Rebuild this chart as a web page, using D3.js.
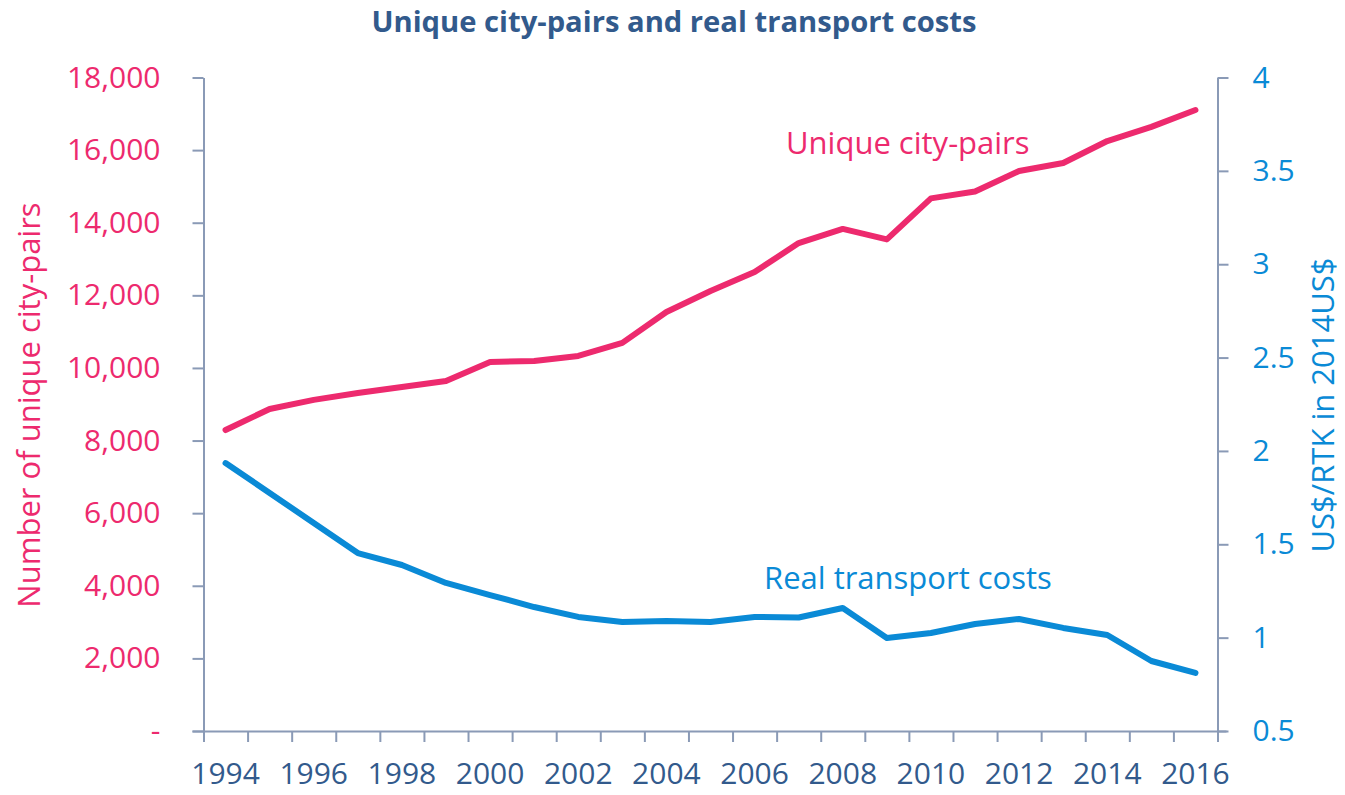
<!DOCTYPE html>
<html lang="en">
<head>
<meta charset="utf-8">
<title>Unique city-pairs and real transport costs</title>
<script src="https://d3js.org/d3.v7.min.js"></script>
<style>
  html, body { margin: 0; padding: 0; background: #fff; }
  svg { display: block; font-family: "Open Sans", sans-serif; }
  .axis path, .axis line { stroke: #8a9ab6; stroke-width: 2; }
</style>
</head>
<body>
<svg width="1345" height="795"></svg>
<script>
  // data
  const years = d3.range(1994, 2017);
  const cityPairs = [8290, 8870, 9120, 9310, 9475, 9640, 10165, 10190, 10330, 10690,
                     11540, 12120, 12640, 13440, 13830, 13540, 14670, 14860, 15425,
                     15645, 16250, 16640, 17105];
  const transportCost = [1.935, 1.775, 1.614, 1.453, 1.389, 1.293, 1.228, 1.164, 1.111,
                         1.084, 1.089, 1.084, 1.111, 1.108, 1.159, 0.998, 1.025, 1.073,
                         1.100, 1.052, 1.014, 0.875, 0.811];
  const leftTicks = d3.range(0, 18001, 2000);
  const rightTicks = [0.5, 1, 1.5, 2, 2.5, 3, 3.5, 4];
  const yearLabels = years.filter(y => y % 2 === 0);

  const pink = "#ed2a6e", blue = "#0a8ad6", navy = "#325a8c";
  const plotL = 203.5, plotR = 1217.5, plotT = 77.5, plotB = 731;

  const svg = d3.select("svg");

  const x = d3.scaleBand().domain(years).range([plotL, plotR]).padding(0);
  const xEdge = d3.scaleLinear().domain([1993.5, 2016.5]).range([plotL, plotR]);
  const yL = d3.scaleLinear().domain([0, 18000]).range([plotB, plotT]);
  const yR = d3.scaleLinear().domain([0.5, 4]).range([plotB, plotT]);

  // x axis: ticks at the year boundaries, labels every other year
  svg.append("g").attr("class", "axis")
     .attr("transform", `translate(0,${plotB})`)
     .call(d3.axisBottom(xEdge).tickValues(d3.range(1993.5, 2017, 1)).tickSize(11)
       .tickFormat("").tickSizeOuter(0))
     .select(".domain").attr("d", `M${plotL - 11},0.5H${plotR + 9}`);

  const xl = svg.append("g")
     .attr("transform", `translate(0,${plotB})`)
     .call(d3.axisBottom(x).tickValues(yearLabels).tickSize(0).tickPadding(32));
  xl.select(".domain").remove();
  xl.selectAll("text").attr("fill", navy).style("font-size", "30px")
     .style("font-family", "'Open Sans', sans-serif");

  // left axis
  const gl = svg.append("g").attr("class", "axis")
     .attr("transform", `translate(${plotL},0)`)
     .call(d3.axisLeft(yL).tickValues(leftTicks).tickSize(11).tickPadding(32)
       .tickSizeOuter(0).tickFormat(d => d === 0 ? "-" : d3.format(",")(d)));
  gl.selectAll("text").attr("fill", pink).style("font-size", "30px")
     .style("font-family", "'Open Sans', sans-serif");

  // right axis
  const gr = svg.append("g").attr("class", "axis")
     .attr("transform", `translate(${plotR},0)`)
     .call(d3.axisRight(yR).tickValues(rightTicks).tickSize(11).tickPadding(24)
       .tickSizeOuter(0).tickFormat(d3.format("")));
  gr.selectAll("text").attr("fill", blue).style("font-size", "30px")
     .style("font-family", "'Open Sans', sans-serif");

  // lines
  const linePink = d3.line().x((d, i) => x(years[i]) + x.bandwidth() / 2).y(d => yL(d));
  const lineBlue = d3.line().x((d, i) => x(years[i]) + x.bandwidth() / 2).y(d => yR(d));

  svg.append("path").datum(cityPairs).attr("d", linePink)
     .attr("fill", "none").attr("stroke", pink).attr("stroke-width", 6)
     .attr("stroke-linejoin", "round").attr("stroke-linecap", "round");
  svg.append("path").datum(transportCost).attr("d", lineBlue)
     .attr("fill", "none").attr("stroke", blue).attr("stroke-width", 6)
     .attr("stroke-linejoin", "round").attr("stroke-linecap", "round");

  // title and labels
  svg.append("text").attr("x", 674).attr("y", 32).attr("text-anchor", "middle")
     .attr("fill", navy).style("font-size", "29.2px").style("font-weight", "bold")
     .text("Unique city-pairs and real transport costs");

  svg.append("text").attr("transform", "translate(40,405) rotate(-90)")
     .attr("text-anchor", "middle").attr("fill", pink).style("font-size", "31px")
     .text("Number of unique city-pairs");

  svg.append("text").attr("transform", "translate(1334,405) rotate(-90)")
     .attr("text-anchor", "middle").attr("fill", blue).style("font-size", "31px")
     .text("US$/RTK in 2014US$");

  svg.append("text").attr("x", 786).attr("y", 154).attr("fill", pink)
     .style("font-size", "31px").text("Unique city-pairs");

  svg.append("text").attr("x", 764).attr("y", 589).attr("fill", blue)
     .style("font-size", "31px").text("Real transport costs");
</script>
</body>
</html>
